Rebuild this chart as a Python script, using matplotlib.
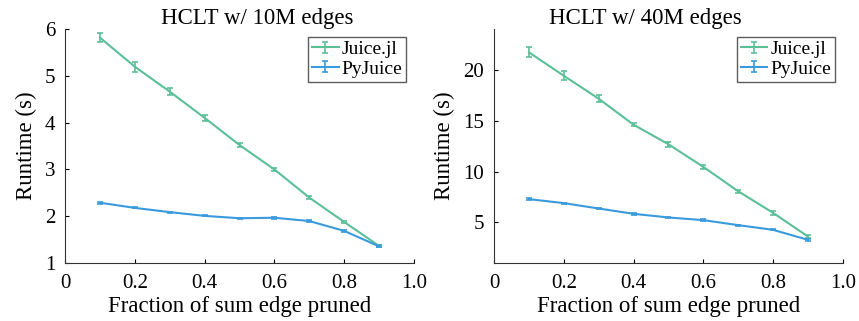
import numpy as np
import matplotlib.pyplot as plt
from matplotlib.container import ErrorbarContainer
from matplotlib.legend_handler import HandlerErrorbar

fractions = [0.1, 0.2, 0.3, 0.4, 0.5, 0.6, 0.7, 0.8, 0.9]

# HCLT w/ 10M edges
juice_10m = [5.81, 5.19, 4.66, 4.10, 3.52, 3.00, 2.40, 1.88, 1.37]
juice_10m_err = [0.10, 0.10, 0.07, 0.06, 0.05, 0.04, 0.03, 0.02, 0.02]
pyjuice_10m = [2.29, 2.18, 2.09, 2.01, 1.96, 1.97, 1.90, 1.69, 1.36]
pyjuice_10m_err = [0.02, 0.01, 0.01, 0.01, 0.01, 0.02, 0.02, 0.02, 0.02]

# HCLT w/ 40M edges
juice_40m = [21.7, 19.4, 17.15, 14.6, 12.68, 10.46, 8.07, 5.95, 3.63]
juice_40m_err = [0.5, 0.45, 0.35, 0.15, 0.25, 0.2, 0.15, 0.2, 0.15]
pyjuice_40m = [7.29, 6.9, 6.37, 5.85, 5.49, 5.23, 4.74, 4.28, 3.3]
pyjuice_40m_err = [0.1, 0.05, 0.05, 0.1, 0.05, 0.1, 0.05, 0.05, 0.1]

titles = ["HCLT w/ 10M edges", "HCLT w/ 40M edges"]
xticks = [0, 0.2, 0.4, 0.6, 0.8, 1.0]
xticklabels = ["0", "0.2", "0.4", "0.6", "0.8", "1.0"]

green = "#5bbf98"
blue = "#3a9bdc"

plt.rcParams["font.family"] = ["Liberation Serif", "DejaVu Serif"]

fig, axes = plt.subplots(1, 2, figsize=(8.59, 3.21), dpi=100)
fig.subplots_adjust(left=0.076, right=0.981, top=0.91, bottom=0.18, wspace=0.23)

panels = [
    (juice_10m, juice_10m_err, pyjuice_10m, pyjuice_10m_err, (1, 6), [1, 2, 3, 4, 5, 6]),
    (juice_40m, juice_40m_err, pyjuice_40m, pyjuice_40m_err, (1, 24), [5, 10, 15, 20]),
]
# title centres are a bit off-centre in the original
title_x = [0.55, 0.435]

for ax, title, tx, (jv, je, pv, pe, ylim, yticks) in zip(axes, titles, title_x, panels):
    ax.errorbar(fractions, jv, yerr=je, color=green, lw=1.5, capsize=2.5,
                capthick=1.2, elinewidth=1.2, label="Juice.jl")
    ax.errorbar(fractions, pv, yerr=pe, color=blue, lw=1.5, capsize=2.5,
                capthick=1.2, elinewidth=1.2, label="PyJuice")
    ax.set_xlim(0, 1.0)
    ax.set_ylim(*ylim)
    ax.set_xticks(xticks)
    ax.set_xticklabels(xticklabels)
    ax.set_yticks(yticks)
    ax.set_title(title, fontsize=16.5, pad=3, x=tx)
    ax.set_xlabel("Fraction of sum edge pruned", fontsize=16.5, labelpad=2)
    ax.set_ylabel("Runtime (s)", fontsize=16.5, labelpad=6)
    ax.tick_params(labelsize=15, direction="in", length=3, width=0.8)
    ax.tick_params(axis="x", pad=8)
    ax.tick_params(axis="y", pad=7)
    ax.spines["top"].set_visible(False)
    ax.spines["right"].set_visible(False)
    for s in ["left", "bottom"]:
        ax.spines[s].set_color("#333333")
        ax.spines[s].set_linewidth(0.8)
    leg = ax.legend(loc="upper right", fontsize=14, frameon=True, fancybox=False,
                    handlelength=1.35, borderpad=0.2, handletextpad=0.15,
                    labelspacing=0.1, borderaxespad=0.4,
                    handler_map={ErrorbarContainer: HandlerErrorbar(yerr_size=0.28)})
    leg.get_frame().set_edgecolor("#333333")
    leg.get_frame().set_linewidth(1.0)

fig.savefig("out.png", dpi=100)
